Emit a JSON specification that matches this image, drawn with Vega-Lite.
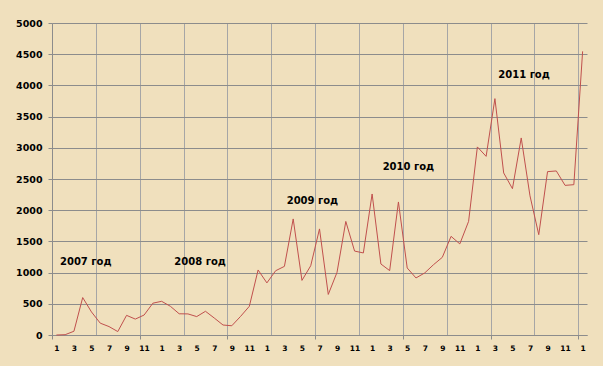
{
  "$schema": "https://vega.github.io/schema/vega-lite/v6.json",
  "width": 535,
  "height": 312,
  "autosize": {"type": "none"},
  "padding": {"left": 52, "top": 23, "right": 16, "bottom": 31},
  "background": "#F0E0BD",
  "config": {
    "view": {"stroke": null},
    "axis": {"labelFont": "DejaVu Sans", "labelColor": "#000000"},
    "axisY": {
      "title": null,
      "values": [0, 500, 1000, 1500, 2000, 2500, 3000, 3500, 4000, 4500, 5000],
      "format": "d",
      "grid": true,
      "gridColor": "#8C8C8C",
      "gridWidth": 1,
      "gridOpacity": 1,
      "domainColor": "#8C8C8C",
      "tickColor": "#8C8C8C",
      "tickSize": 4,
      "labelPadding": 6,
      "labelFontSize": 9.5,
      "labelFontWeight": "bold"
    }
  },
  "datasets": {
    "series": [
      {"i": 0, "v": 0}, {"i": 1, "v": 5}, {"i": 2, "v": 60}, {"i": 3, "v": 600},
      {"i": 4, "v": 370}, {"i": 5, "v": 190}, {"i": 6, "v": 135}, {"i": 7, "v": 55},
      {"i": 8, "v": 315}, {"i": 9, "v": 255}, {"i": 10, "v": 320}, {"i": 11, "v": 510},
      {"i": 12, "v": 540}, {"i": 13, "v": 460}, {"i": 14, "v": 340}, {"i": 15, "v": 338},
      {"i": 16, "v": 295}, {"i": 17, "v": 380}, {"i": 18, "v": 272}, {"i": 19, "v": 160},
      {"i": 20, "v": 148}, {"i": 21, "v": 298}, {"i": 22, "v": 460}, {"i": 23, "v": 1042},
      {"i": 24, "v": 835}, {"i": 25, "v": 1030}, {"i": 26, "v": 1100}, {"i": 27, "v": 1860},
      {"i": 28, "v": 875}, {"i": 29, "v": 1110}, {"i": 30, "v": 1700}, {"i": 31, "v": 650},
      {"i": 32, "v": 1005}, {"i": 33, "v": 1820}, {"i": 34, "v": 1345}, {"i": 35, "v": 1315},
      {"i": 36, "v": 2260}, {"i": 37, "v": 1138}, {"i": 38, "v": 1032}, {"i": 39, "v": 2132},
      {"i": 40, "v": 1074}, {"i": 41, "v": 914}, {"i": 42, "v": 995}, {"i": 43, "v": 1127},
      {"i": 44, "v": 1244}, {"i": 45, "v": 1581}, {"i": 46, "v": 1460}, {"i": 47, "v": 1821},
      {"i": 48, "v": 3014}, {"i": 49, "v": 2863}, {"i": 50, "v": 3788}, {"i": 51, "v": 2597},
      {"i": 52, "v": 2345}, {"i": 53, "v": 3158}, {"i": 54, "v": 2230}, {"i": 55, "v": 1608},
      {"i": 56, "v": 2618}, {"i": 57, "v": 2629}, {"i": 58, "v": 2398}, {"i": 59, "v": 2409},
      {"i": 60, "v": 4546}
    ],
    "notes": [
      {"i": 0.41, "v": 1167, "label": "2007 год"},
      {"i": 13.45, "v": 1170, "label": "2008 год"},
      {"i": 26.26, "v": 2152, "label": "2009 год"},
      {"i": 37.2, "v": 2693, "label": "2010 год"},
      {"i": 50.39, "v": 4171, "label": "2011 год"}
    ]
  },
  "resolve": {"axis": {"x": "independent"}},
  "layer": [
    {
      "data": {"name": "series"},
      "mark": {"type": "line", "color": "#C0504D", "strokeWidth": 1},
      "encoding": {
        "x": {
          "field": "i",
          "type": "quantitative",
          "scale": {"domain": [-0.5, 60.5], "nice": false, "zero": false},
          "axis": {
            "orient": "bottom",
            "title": null,
            "values": [0, 2, 4, 6, 8, 10, 12, 14, 16, 18, 20, 22, 24, 26, 28, 30, 32, 34, 36, 38, 40, 42, 44, 46, 48, 50, 52, 54, 56, 58, 60],
            "labelExpr": "(datum.value % 12) + 1",
            "grid": false,
            "ticks": false,
            "tickSize": 0,
            "domain": true,
            "domainColor": "#8C8C8C",
            "labelFontSize": 7.5,
            "labelFontWeight": "bold",
            "labelPadding": 9,
            "labelOverlap": false,
            "labelFlush": false
          }
        },
        "y": {
          "field": "v",
          "type": "quantitative",
          "scale": {"domain": [0, 5000], "nice": false}
        }
      }
    },
    {
      "data": {"name": "notes"},
      "mark": {"type": "text", "align": "left", "baseline": "middle", "font": "DejaVu Sans", "fontWeight": "bold", "fontSize": 10, "color": "#000000"},
      "encoding": {
        "x": {
          "field": "i",
          "type": "quantitative",
          "axis": {
            "orient": "bottom",
            "title": null,
            "values": [-0.5, 4.5, 9.5, 14.5, 19.5, 24.5, 29.5, 34.5, 39.5, 44.5, 49.5, 54.5, 59.5],
            "labels": false,
            "domain": false,
            "grid": true,
            "gridColor": "#A6A6A6",
            "gridOpacity": 1,
            "ticks": true,
            "tickSize": 4,
            "tickColor": "#8C8C8C",
            "tickOpacity": {"condition": {"test": "datum.value == -0.5 || datum.value % 10 == 9.5", "value": 1}, "value": 0}
          }
        },
        "y": {"field": "v", "type": "quantitative"},
        "text": {"field": "label"}
      }
    }
  ]
}
